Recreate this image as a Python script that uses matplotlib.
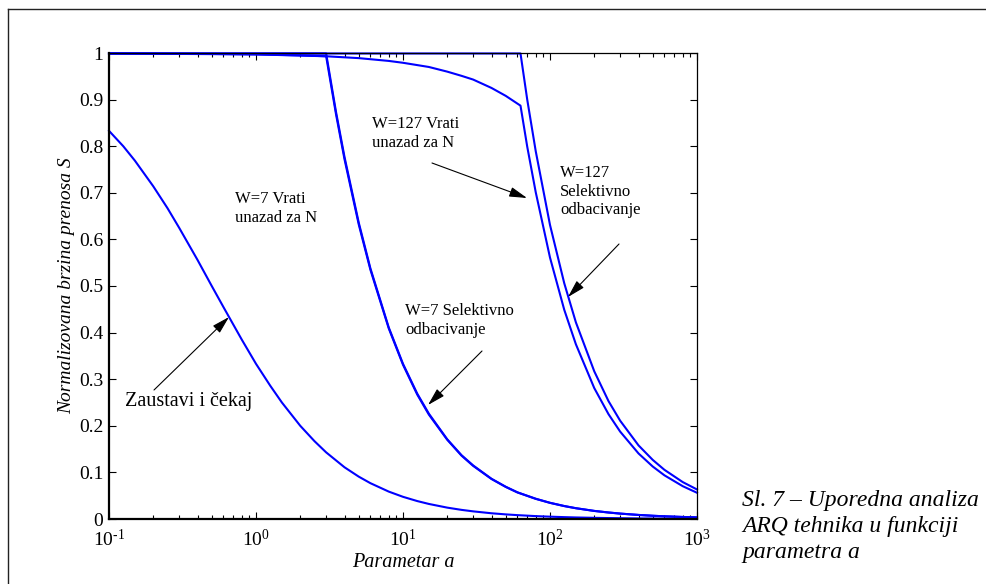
import matplotlib
matplotlib.use('Agg')
import matplotlib.pyplot as plt
from matplotlib.lines import Line2D
from matplotlib.patches import FancyArrowPatch

plt.rcParams['font.family'] = ['Liberation Serif', 'DejaVu Serif']
plt.rcParams['mathtext.fontset'] = 'custom'
plt.rcParams['mathtext.rm'] = 'Liberation Serif'
plt.rcParams['mathtext.it'] = 'Liberation Serif:italic'
plt.rcParams['axes.unicode_minus'] = False

# vrednosti ocitane sa slike
a_zc = [0.1, 0.125, 0.15, 0.2, 0.25, 0.3, 0.4, 0.5, 0.6, 0.8,
        1, 1.25, 1.5, 2, 2.5, 3, 4, 5, 6, 8,
        10, 12.5, 15, 20, 25, 30, 40, 50, 60, 80,
        100, 125, 150, 200, 250, 300, 400, 500, 600, 800, 1000]
s_zc = [0.833, 0.800, 0.769, 0.714, 0.667, 0.625, 0.556, 0.500, 0.455, 0.385,
        0.333, 0.286, 0.250, 0.200, 0.167, 0.143, 0.111, 0.0909, 0.0769, 0.0588,
        0.0476, 0.0385, 0.0323, 0.0244, 0.0196, 0.0164, 0.0123, 0.0099, 0.0083, 0.0062,
        0.005, 0.004, 0.0033, 0.0025, 0.002, 0.0017, 0.0012, 0.001, 0.0008, 0.0006, 0.0005]

a_w7 = [0.1, 0.5, 1, 2, 3, 3.5, 4, 5, 6, 8,
        10, 12.5, 15, 20, 25, 30, 40, 50, 60, 80,
        100, 125, 150, 200, 250, 300, 400, 500, 600, 800, 1000]
s_w7_gbn = [0.999, 0.998, 0.997, 0.995, 0.993, 0.869, 0.772, 0.632, 0.535, 0.409,
            0.331, 0.267, 0.224, 0.170, 0.136, 0.114, 0.0858, 0.0688, 0.057, 0.0432,
            0.0346, 0.0277, 0.0231, 0.0173, 0.0139, 0.0116, 0.0087, 0.0069, 0.0058,
            0.0043, 0.0035]
s_w7_sr = [0.999, 0.999, 0.999, 0.999, 0.999, 0.874, 0.777, 0.636, 0.538, 0.411,
           0.333, 0.269, 0.226, 0.171, 0.137, 0.115, 0.0863, 0.0692, 0.0573, 0.0435,
           0.0348, 0.0279, 0.0232, 0.0174, 0.014, 0.0116, 0.0087, 0.007, 0.0058,
           0.0044, 0.0035]

a_w127 = [0.1, 1, 3, 5, 8, 10, 15, 20, 25, 30, 40, 50, 63,
          70, 80, 100, 125, 150, 200, 250, 300, 400, 500, 600, 800, 1000]
s_w127_gbn = [0.999, 0.997, 0.993, 0.989, 0.983, 0.979, 0.970, 0.960, 0.951, 0.943,
              0.925, 0.908, 0.887,
              0.799, 0.701, 0.561, 0.449, 0.375, 0.281, 0.225, 0.1876, 0.1407,
              0.1126, 0.0938, 0.0704, 0.0563]
s_w127_sr = [0.999, 0.999, 0.999, 0.999, 0.999, 0.999, 0.999, 0.999, 0.999, 0.999,
             0.999, 0.999, 0.999,
             0.900, 0.789, 0.631, 0.506, 0.422, 0.317, 0.253, 0.211, 0.158,
             0.1268, 0.1056, 0.0792, 0.0634]

y_ticks = [0, 0.1, 0.2, 0.3, 0.4, 0.5, 0.6, 0.7, 0.8, 0.9, 1]
y_labels = ['0', '0.1', '0.2', '0.3', '0.4', '0.5', '0.6', '0.7', '0.8', '0.9', '1']
x_ticks = [0.1, 1, 10, 100, 1000]
x_labels = [r'$10^{\text{-1}}$', r'$10^{0}$', r'$10^{1}$', r'$10^{2}$', r'$10^{3}$']

W, H = 987, 584
fig = plt.figure(figsize=(W / 100, H / 100), dpi=100)

def fx(px):
    return px / W

def fy(py):
    return 1 - py / H

ax = fig.add_axes([fx(109), fy(519), fx(697) - fx(109), fy(53) - fy(519)])

plava = (0, 0, 1)
for a, s in [(a_zc, s_zc), (a_w7, s_w7_gbn), (a_w7, s_w7_sr),
             (a_w127, s_w127_gbn), (a_w127, s_w127_sr)]:
    ax.plot(a, s, color=plava, lw=1.5, clip_on=False)

ax.set_xscale('log')
ax.set_xlim(0.1, 1000)
ax.set_ylim(0, 1)
ax.set_yticks(y_ticks)
ax.set_yticklabels(y_labels)
ax.set_xticks(x_ticks)
ax.set_xticklabels(x_labels)

ax.tick_params(which='both', direction='in', top=True, right=True, labelsize=14)
ax.tick_params(axis='x', pad=7)
ax.tick_params(axis='y', pad=4)
ax.tick_params(which='major', length=5, width=0.8)
ax.tick_params(which='minor', length=3, width=0.8)
ax.spines['left'].set_linewidth(1.6)
ax.spines['bottom'].set_linewidth(1.6)
ax.spines['top'].set_linewidth(0.9)
ax.spines['right'].set_linewidth(0.9)

ax.set_ylabel('Normalizovana brzina prenosa S', fontsize=14, style='italic', labelpad=3)
ax.set_xlabel('Parametar a', fontsize=14.5, style='italic', labelpad=2)

tekst = dict(fontsize=12, va='top', ha='left', linespacing=1.22, transform=fig.transFigure)
fig.text(fx(235), fy(191), 'W=7 Vrati\nunazad za N', **tekst)
fig.text(fx(372), fy(116), 'W=127 Vrati\nunazad za N', **tekst)
fig.text(fx(560), fy(165), 'W=127\nSelektivno\nodbacivanje', **tekst)
fig.text(fx(405), fy(303), 'W=7 Selektivno\nodbacivanje', **tekst)
fig.text(fx(125), fy(392), 'Zaustavi i čekaj', fontsize=14.5, va='top', ha='left',
         transform=fig.transFigure)

strelica = dict(arrowstyle='-|>,head_length=0.9,head_width=0.25', color='black', lw=0.8,
                shrinkA=0, shrinkB=0, mutation_scale=12)
for (x0, y0), (x1, y1) in [((432, 163), (527, 198)), ((619, 244), (568, 297)),
                           ((482, 351), (428, 405)), ((154, 390), (229, 317))]:
    fig.add_artist(FancyArrowPatch((fx(x0), fy(y0)), (fx(x1), fy(y1)),
                                   transform=fig.transFigure, **strelica))

fig.text(fx(742), fy(490), 'Sl. 7 – Uporedna analiza\nARQ tehnika u funkciji\nparametra a',
         fontsize=17, style='italic', va='top', ha='left', linespacing=1.3)

# okvir
fig.add_artist(Line2D([fx(8), fx(8)], [fy(9), 0], color='#222222', lw=1.0,
                      transform=fig.transFigure))
fig.add_artist(Line2D([fx(8), 1], [fy(9), fy(9)], color='#222222', lw=1.0,
                      transform=fig.transFigure))

fig.savefig('out.png', dpi=100)
